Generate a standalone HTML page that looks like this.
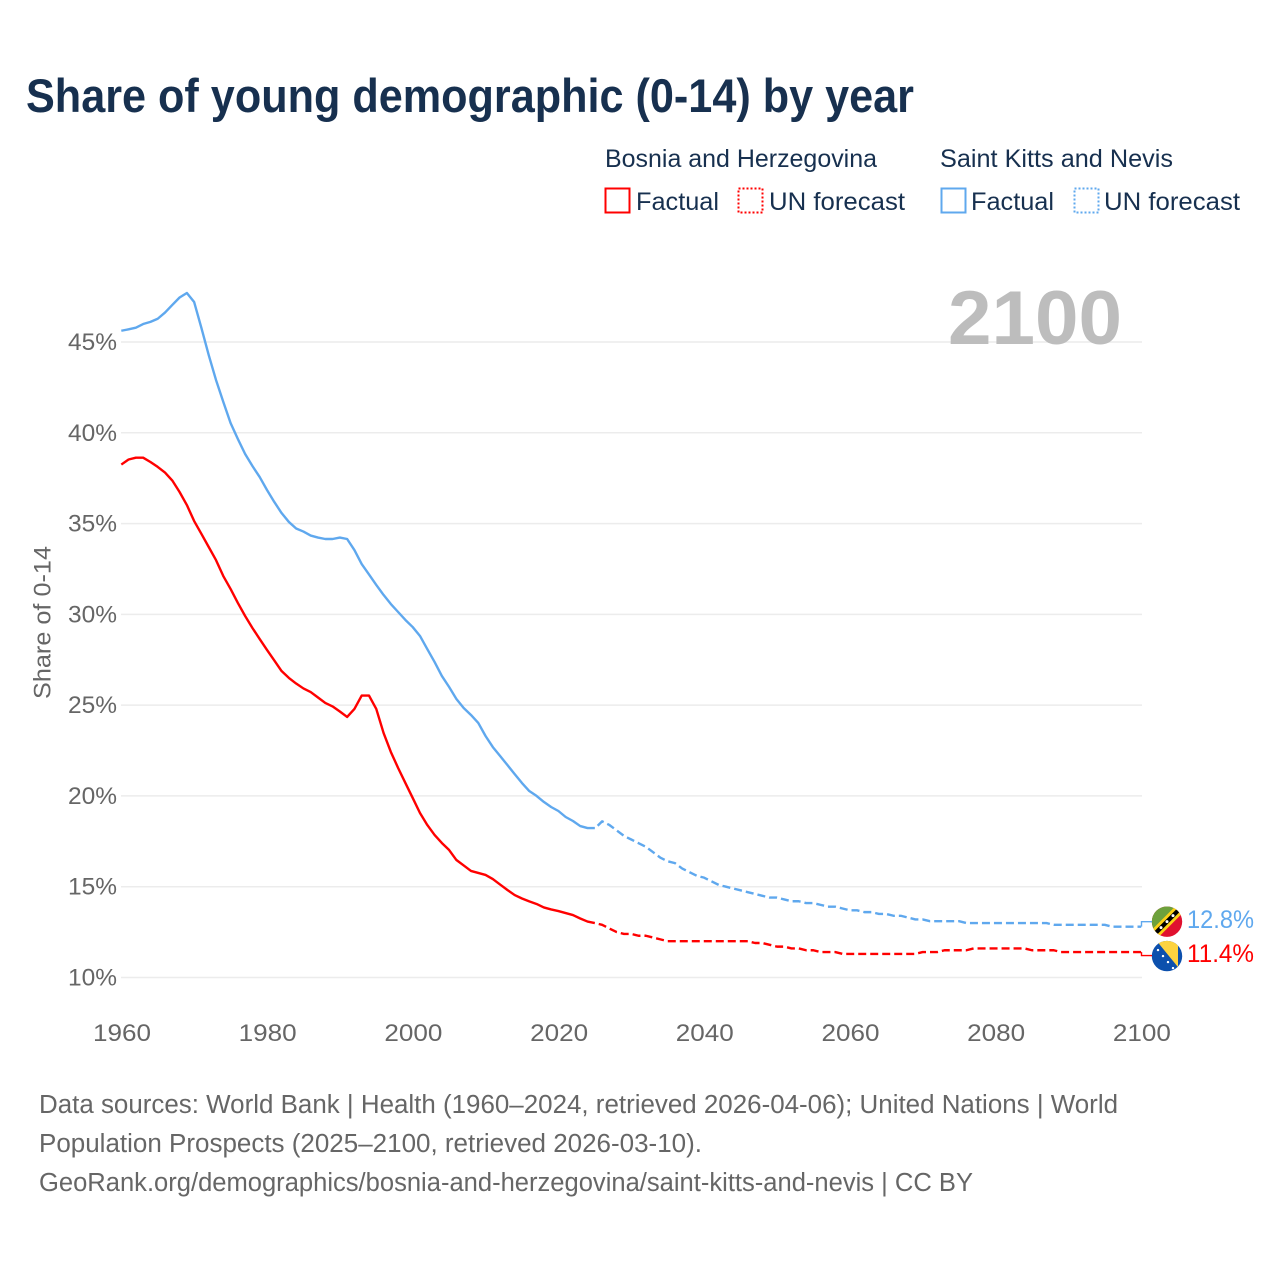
<!DOCTYPE html>
<html lang="en">
<head>
<meta charset="utf-8">
<title>Share of young demographic (0-14) by year</title>
<style>
html,body{margin:0;padding:0;background:#fff;}
svg{display:block;font-family:"Liberation Sans",sans-serif;}
.lg{font-size:25px;fill:#17304f;}
.foot{font-size:25.5px;fill:#666;}
.tick{font-size:24.5px;fill:#666;}
</style>
</head>
<body>
<svg id="chart" width="1280" height="1280" viewBox="0 0 1280 1280" xmlns="http://www.w3.org/2000/svg">
  <rect x="0" y="0" width="1280" height="1280" fill="#fff"/>
  <text x="26" y="112" font-size="47" font-weight="700" fill="#17304f" textLength="888" lengthAdjust="spacingAndGlyphs">Share of young demographic (0-14) by year</text>

  <text class="lg" x="605" y="167" textLength="272" lengthAdjust="spacingAndGlyphs">Bosnia and Herzegovina</text>
  <text class="lg" x="940" y="167" textLength="233" lengthAdjust="spacingAndGlyphs">Saint Kitts and Nevis</text>

  <rect x="605.5" y="188.5" width="24" height="24" fill="none" stroke="#ff0000" stroke-width="2"/>
  <text class="lg" x="636" y="210" textLength="83" lengthAdjust="spacingAndGlyphs">Factual</text>
  <rect x="738.5" y="188.5" width="24" height="24" fill="none" stroke="#ff0000" stroke-width="2" stroke-dasharray="2 2"/>
  <text class="lg" x="769" y="210" textLength="136" lengthAdjust="spacingAndGlyphs">UN forecast</text>
  <rect x="941.5" y="188.5" width="24" height="24" fill="none" stroke="#5fa8ee" stroke-width="2"/>
  <text class="lg" x="971" y="210" textLength="83" lengthAdjust="spacingAndGlyphs">Factual</text>
  <rect x="1074.5" y="188.5" width="24" height="24" fill="none" stroke="#5fa8ee" stroke-width="2" stroke-dasharray="2 2"/>
  <text class="lg" x="1104" y="210" textLength="136" lengthAdjust="spacingAndGlyphs">UN forecast</text>

  <g id="grid"></g>
  <text x="948" y="344" font-size="76" font-weight="700" fill="#bdbdbd" textLength="174" lengthAdjust="spacingAndGlyphs">2100</text>
  <g id="yticks"></g>
  <g id="xticks"></g>
  <text transform="translate(50.5 699) rotate(-90)" x="0" y="0" font-size="24.5" fill="#666" textLength="153" lengthAdjust="spacingAndGlyphs">Share of 0-14</text>
  <g id="series"></g>

  <defs>
    <clipPath id="flag-clip"><circle cx="0" cy="0" r="15.2"/></clipPath>
  </defs>
  <g id="flag-kn" clip-path="url(#flag-clip)">
    <rect x="-16" y="-16" width="32" height="32" fill="#e0102f"/>
    <polygon points="-16,-16 16,-16 -16,16" fill="#6da13c"/>
    <polygon points="-16,9 9,-16 16,-16 16,-9 -9,16 -16,16" fill="#fcd116"/>
    <polygon points="-16,13 13,-16 16,-13 -13,16 -16,16" fill="#000"/>
    <circle cx="-6" cy="6" r="1.5" fill="#fff"/>
    <circle cx="0" cy="0" r="1.5" fill="#fff"/>
    <circle cx="6" cy="-6" r="1.5" fill="#fff"/>
  </g>
  <g id="flag-ba" clip-path="url(#flag-clip)">
    <rect x="-16" y="-16" width="32" height="32" fill="#0c50ad"/>
    <polygon points="-11,-16 11,-16 11,11" fill="#fdd340"/>
    <circle cx="-9" cy="-6" r="1.2" fill="#fff"/>
    <circle cx="-4" cy="0" r="1.2" fill="#fff"/>
    <circle cx="1" cy="6" r="1.2" fill="#fff"/>
    <circle cx="6" cy="12" r="1.2" fill="#fff"/>
  </g>
  <g id="endlabels"></g>

  <text class="foot" x="39" y="1113" textLength="1079" lengthAdjust="spacingAndGlyphs">Data sources: World Bank | Health (1960–2024, retrieved 2026-04-06); United Nations | World</text>
  <text class="foot" x="39" y="1152" textLength="663" lengthAdjust="spacingAndGlyphs">Population Prospects (2025–2100, retrieved 2026-03-10).</text>
  <text class="foot" x="39" y="1191" textLength="934" lengthAdjust="spacingAndGlyphs">GeoRank.org/demographics/bosnia-and-herzegovina/saint-kitts-and-nevis | CC BY</text>
</svg>

<script>
const yTickValues = [10, 15, 20, 25, 30, 35, 40, 45];
const xTickYears = [1960, 1980, 2000, 2020, 2040, 2060, 2080, 2100];
const factualStartYear = 1960;
const forecastStartYear = 2025;

const bosniaFactual = [38.25,38.53,38.63,38.63,38.39,38.12,37.81,37.37,36.74,36.02,35.14,34.43,33.71,32.99,32.11,31.40,30.63,29.91,29.25,28.64,28.04,27.46,26.88,26.50,26.19,25.92,25.72,25.42,25.12,24.93,24.65,24.35,24.79,25.53,25.53,24.79,23.47,22.42,21.54,20.71,19.89,19.06,18.40,17.85,17.41,17.02,16.47,16.17,15.87,15.76,15.65,15.42,15.12,14.82,14.54,14.35,14.19,14.05,13.86,13.75,13.66,13.55,13.44,13.25,13.08,13.00];

const kittsFactual = [45.62,45.70,45.79,45.99,46.11,46.28,46.62,47.04,47.45,47.70,47.20,45.77,44.28,42.91,41.70,40.54,39.66,38.83,38.17,37.56,36.85,36.19,35.58,35.09,34.73,34.56,34.34,34.23,34.15,34.15,34.23,34.15,33.54,32.77,32.20,31.62,31.07,30.57,30.13,29.69,29.30,28.81,28.09,27.38,26.61,26.00,25.34,24.84,24.46,24.02,23.30,22.69,22.20,21.70,21.20,20.71,20.27,20.00,19.67,19.39,19.17,18.84,18.62,18.34,18.23,18.23];

const bosniaForecast = [13.0,12.9,12.7,12.5,12.4,12.4,12.3,12.3,12.2,12.1,12.0,12.0,12.0,12.0,12.0,12.0,12.0,12.0,12.0,12.0,12.0,12.0,11.9,11.9,11.8,11.7,11.7,11.6,11.6,11.5,11.5,11.4,11.4,11.4,11.3,11.3,11.3,11.3,11.3,11.3,11.3,11.3,11.3,11.3,11.3,11.4,11.4,11.4,11.5,11.5,11.5,11.5,11.6,11.6,11.6,11.6,11.6,11.6,11.6,11.6,11.5,11.5,11.5,11.5,11.4,11.4,11.4,11.4,11.4,11.4,11.4,11.4,11.4,11.4,11.4,11.4];

const kittsForecast = [18.2,18.6,18.4,18.1,17.8,17.6,17.4,17.2,16.9,16.6,16.4,16.3,16.0,15.8,15.6,15.5,15.3,15.1,15.0,14.9,14.8,14.7,14.6,14.5,14.4,14.4,14.3,14.2,14.2,14.1,14.1,14.0,13.9,13.9,13.8,13.7,13.7,13.6,13.6,13.5,13.5,13.4,13.4,13.3,13.2,13.2,13.1,13.1,13.1,13.1,13.1,13.0,13.0,13.0,13.0,13.0,13.0,13.0,13.0,13.0,13.0,13.0,13.0,12.9,12.9,12.9,12.9,12.9,12.9,12.9,12.9,12.8,12.8,12.8,12.8,12.8];

const bosniaEndLabel = "11.4%";
const kittsEndLabel = "12.8%";

const NS = "http://www.w3.org/2000/svg";
function xScale(year){ return 121.3 + (year - 1960) * 7.285; }
function yScale(v){ return 977.5 - (v - 10) * 18.157; }

function make(tag, attrs, parent){
  const el = document.createElementNS(NS, tag);
  for (const k in attrs) el.setAttribute(k, attrs[k]);
  parent.appendChild(el);
  return el;
}
function linePath(values, startYear){
  return values.map(function(v, i){
    return (i ? "L" : "M") + xScale(startYear + i).toFixed(2) + " " + yScale(v).toFixed(2);
  }).join(" ");
}

const gridG = document.getElementById("grid");
const yG = document.getElementById("yticks");
yTickValues.forEach(function(v){
  const ln = make("line", {x1: 121, x2: 1142, y1: yScale(v), y2: yScale(v), stroke: "#ececec", "stroke-width": 1.5}, gridG);
  
  
  const t = make("text", {x: 117, y: yScale(v) + 8, "text-anchor": "end", "class": "tick", textLength: 49, lengthAdjust: "spacingAndGlyphs"}, yG);
  t.textContent = v + "%";
  
  
});

const xG = document.getElementById("xticks");
xTickYears.forEach(function(yr){
  const t = make("text", {x: xScale(yr) - 28.3, y: 1041, "class": "tick", textLength: 58, lengthAdjust: "spacingAndGlyphs"}, xG);
  t.textContent = String(yr);
  
  
});

const seriesG = document.getElementById("series");
const common = {fill: "none", "stroke-width": 2.4, "stroke-linejoin": "round"};
function drawSeries(values, startYear, color, dashed, name){
  const attrs = Object.assign({}, common, {d: linePath(values, startYear), stroke: color});
  if (dashed) { attrs["stroke-dasharray"] = "8 4"; attrs["stroke-dashoffset"] = "8"; }
  const p = make("path", attrs, seriesG);
  
  
}
drawSeries(kittsFactual, factualStartYear, "#5fa8ee", false, "line-saint-kitts-factual");
drawSeries(kittsForecast, forecastStartYear, "#5fa8ee", true, "line-saint-kitts-forecast");
drawSeries(bosniaFactual, factualStartYear, "#ff0000", false, "line-bosnia-factual");
drawSeries(bosniaForecast, forecastStartYear, "#ff0000", true, "line-bosnia-forecast");

const endG = document.getElementById("endlabels");
function drawEnd(values, color, text, offset, flagId, name){
  const last = values[values.length - 1];
  const yEnd = yScale(last);
  const yFlag = yEnd + offset;
  const c = make("path", {d: "M1141.5 " + yEnd + " V" + yFlag + " H1152", fill: "none", stroke: color, "stroke-width": 1.4}, endG);
  
  
  document.getElementById(flagId).setAttribute("transform", "translate(1167 " + (yFlag + (offset < 0 ? 0 : 0.5)) + ")");
  const t = make("text", {x: 1187, y: yFlag + 6.5, "font-size": 25, fill: color, textLength: 67, lengthAdjust: "spacingAndGlyphs"}, endG);
  t.textContent = text;
  
  
}
drawEnd(kittsForecast, "#5fa8ee", kittsEndLabel, -5, "flag-kn", "end-saint-kitts");
drawEnd(bosniaForecast, "#ff0000", bosniaEndLabel, 3.5, "flag-ba", "end-bosnia");
</script>
</body>
</html>
